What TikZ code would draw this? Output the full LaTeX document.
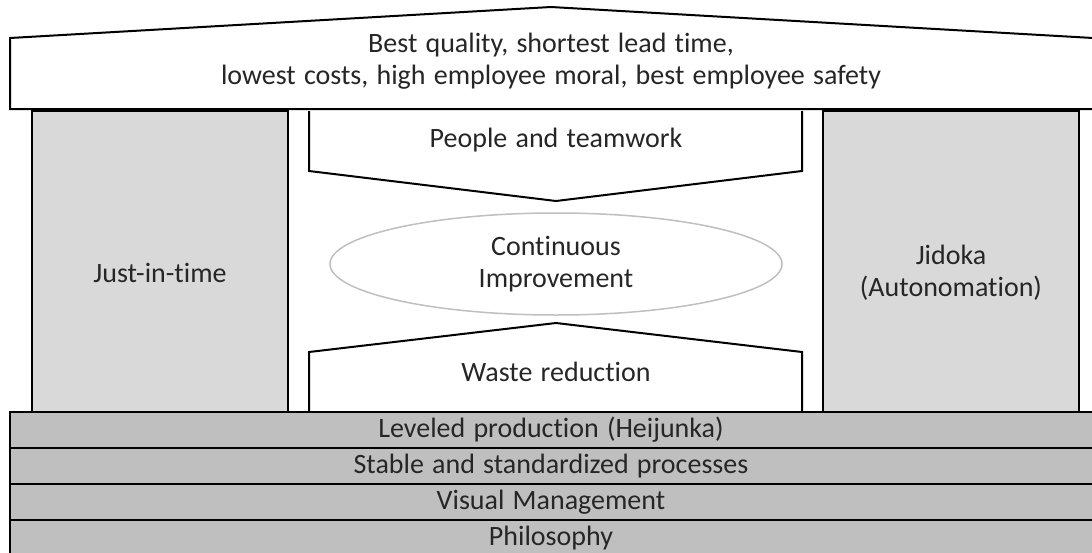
\documentclass[tikz,border=0pt]{standalone}
\usepackage{fontspec}
\setmainfont{Carlito}[Ligatures=NoCommon,WordSpace=1.3]
\usetikzlibrary{shapes.geometric}
\definecolor{pillargray}{HTML}{D9D9D9}
\definecolor{basegray}{HTML}{BFBFBF}
\tikzset{
	lbl/.style={font=\fontsize{28}{32}\selectfont,align=center,text=black!85},
	pillar/.style={draw,fill=pillargray},
	layer/.style={draw,fill=basegray}
}
\begin{document}
\begin{tikzpicture}[x=1pt,y=-1pt,line width=2pt]
	\useasboundingbox (0,0) rectangle (1092,552);
	\begin{scope}
	\clip (0,0) rectangle (1092,552);
	% roof
	\draw[fill=white] (10,109)--(10,38)--(551,7)--(1093,38)--(1093,109)--cycle;
	\node[lbl] (goal) at (551,61) {Best quality, shortest lead time,\\lowest costs, high employee moral, best employee safety};
	% pillars
	\draw[pillar] (32,111) rectangle (288,412);
	\draw[pillar] (823,111) rectangle (1079,412);
	\node[lbl] (jit) at (160,273) {Just-in-time};
	\node[lbl] (jidoka) at (951,273) {Jidoka\\(Autonomation)};
	% chevrons in the middle
	\draw[fill=white] (309,111)--(309,171)--(556,201)--(802,171)--(802,111);
	\draw[fill=white] (309,412)--(309,352)--(556,323)--(802,352)--(802,412);
	\node[lbl] (people) at (556,140) {People and teamwork};
	\node[lbl] (waste) at (556,372) {Waste reduction};
	\node[lbl,ellipse,draw=basegray,line width=1.5pt,inner sep=0pt,
		minimum width=452,minimum height=102] (kaizen) at (556,264) {Continuous\\Improvement};
	% foundation layers
	\foreach \y/\name/\txt in {412/level/Leveled production (Heijunka),
		448/stable/Stable and standardized processes,
		484/visual/Visual Management,
		520/philo/Philosophy}
	{
		\draw[layer] (10,\y) rectangle (1093,\y+36);
		\node[lbl] (\name) at (551,\y+18) {\txt};
	}
	\end{scope}
\end{tikzpicture}
\end{document}
